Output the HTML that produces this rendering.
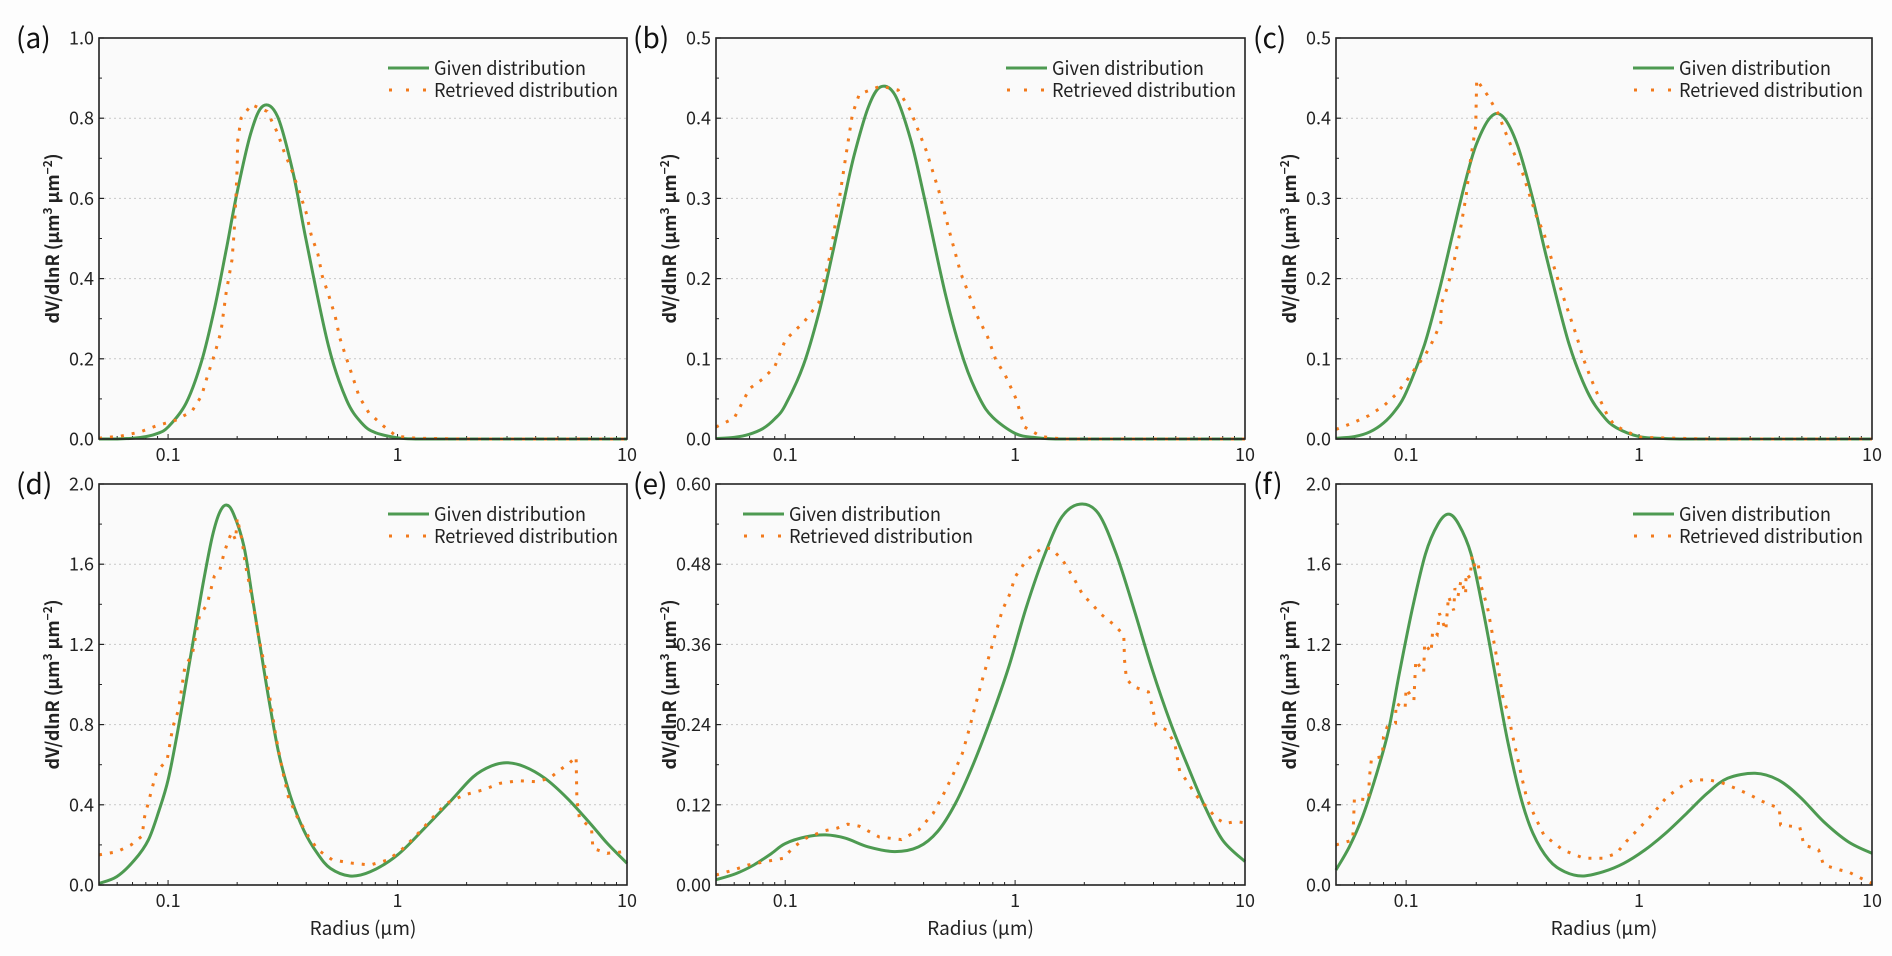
<!DOCTYPE html>
<html><head><meta charset="utf-8">
<style>
html,body{margin:0;padding:0;background:#fdfdfd;}
svg{display:block;font-family:"Noto Sans CJK SC","Liberation Sans",sans-serif;}
</style></head>
<body>
<svg id="fig" width="1892" height="956" viewBox="0 0 1892 956" xmlns="http://www.w3.org/2000/svg">
<rect x="0" y="0" width="1892" height="956" fill="#fdfdfd"/>
</svg>
<script>
// ---------- shared tick labels ----------
const xTickVals = [0.1, 1, 10];
const xTickLabels = ['0.1', '1', '10'];
// ---------- given-curve radius grid (a,b,c) ----------
const gridR = [0.05,0.06,0.07,0.08,0.09,0.1,0.12,0.14,0.16,0.18,0.2,0.23,0.26,0.3,0.35,0.4,0.5,0.6,0.7,0.8,1,1.2,1.5,2,3,5,10];
// ---------- panel (a) ----------
const aYTicks = ['0.0','0.2','0.4','0.6','0.8','1.0'];
const aGiven = [0,0,0.002,0.006,0.014,0.030,0.090,0.194,0.330,0.478,0.616,0.765,0.831,0.804,0.666,0.495,0.232,0.097,0.039,0.016,0.003,0,0,0,0,0,0];
const aRetR = [0.05,0.062,0.075,0.089,0.108,0.127,0.140,0.149,0.160,0.170,0.179,0.190,0.194,0.198,0.200,0.201,0.208,0.231,0.270,0.30,0.32,0.35,0.375,0.40,0.42,0.45,0.47,0.50,0.535,0.56,0.595,0.64,0.68,0.75,0.87,0.99,1.2,2,4,10];
const aRetV = [0.002,0.007,0.017,0.033,0.047,0.069,0.108,0.160,0.214,0.268,0.364,0.447,0.514,0.613,0.68,0.742,0.80,0.834,0.817,0.763,0.717,0.663,0.613,0.564,0.51,0.46,0.406,0.36,0.306,0.252,0.206,0.152,0.106,0.065,0.032,0.007,0.002,0,0,0];
// ---------- panel (b) ----------
const bYTicks = ['0.0','0.1','0.2','0.3','0.4','0.5'];
const bGiven = [0.0005,0.002,0.006,0.013,0.025,0.042,0.092,0.157,0.229,0.297,0.355,0.414,0.439,0.429,0.375,0.305,0.178,0.097,0.051,0.027,0.007,0.002,0,0,0,0,0];
const bRetR = [0.05,0.06,0.07,0.08,0.09,0.1,0.11,0.12,0.14,0.157,0.17,0.183,0.196,0.21,0.26,0.31,0.35,0.41,0.465,0.52,0.58,0.63,0.68,0.76,0.826,0.905,1.01,1.1,1.3,1.6,3,10];
const bRetV = [0.015,0.026,0.063,0.075,0.09,0.123,0.135,0.145,0.17,0.23,0.29,0.35,0.405,0.43,0.44,0.435,0.41,0.36,0.31,0.257,0.207,0.18,0.155,0.127,0.098,0.08,0.05,0.015,0.003,0,0,0];
// ---------- panel (c) ----------
const cYTicks = ['0.0','0.1','0.2','0.3','0.4','0.5'];
const cGiven = [0.001,0.003,0.009,0.020,0.036,0.058,0.118,0.190,0.261,0.322,0.367,0.401,0.402,0.367,0.299,0.227,0.119,0.059,0.029,0.014,0.003,0.001,0,0,0,0,0];
const cRetR = [0.05,0.0589,0.069,0.080,0.090,0.099,0.110,0.121,0.130,0.141,0.1415,0.150,0.159,0.170,0.181,0.189,0.199,0.200,0.201,0.223,0.248,0.264,0.29,0.316,0.34,0.362,0.39,0.417,0.444,0.472,0.505,0.54,0.575,0.62,0.67,0.73,0.78,0.87,1.02,2,10];
const cRetV = [0.012,0.020,0.029,0.041,0.055,0.070,0.089,0.105,0.122,0.145,0.168,0.188,0.215,0.257,0.303,0.348,0.39,0.419,0.448,0.429,0.406,0.386,0.357,0.332,0.303,0.278,0.257,0.228,0.203,0.178,0.153,0.128,0.101,0.076,0.053,0.030,0.018,0.010,0.002,0,0];
// ---------- panel (d) ----------
const dYTicks = ['0.0','0.4','0.8','1.2','1.6','2.0'];
const dGivR = [0.05,0.0598,0.0715,0.082,0.0915,0.1,0.109,0.119,0.131,0.143,0.156,0.168,0.18,0.193,0.214,0.234,0.256,0.28,0.306,0.342,0.39,0.447,0.51,0.62,0.76,1.0,1.31,1.72,2.14,2.57,2.99,3.58,4.39,5.5,6.9,8.2,10];
const dGivV = [0.008,0.042,0.125,0.224,0.374,0.524,0.74,0.99,1.27,1.52,1.74,1.86,1.895,1.85,1.69,1.42,1.14,0.873,0.64,0.44,0.274,0.158,0.083,0.045,0.066,0.15,0.283,0.424,0.54,0.594,0.61,0.59,0.532,0.432,0.308,0.208,0.108];
const dRetR = [0.05,0.06,0.069,0.077,0.079,0.089,0.099,0.105,0.111,0.118,0.128,0.137,0.148,0.159,0.168,0.175,0.183,0.19,0.197,0.20,0.21,0.217,0.227,0.237,0.25,0.264,0.28,0.295,0.315,0.334,0.365,0.41,0.45,0.52,0.64,0.76,0.91,1.04,1.19,1.39,1.63,1.95,2.35,2.8,3.36,4.0,4.6,5.1,5.6,6.0,6.05,6.2,7.0,7.1,8.2,9.8];
const dRetV = [0.15,0.166,0.2,0.244,0.34,0.565,0.623,0.79,0.873,1.08,1.16,1.34,1.40,1.54,1.57,1.65,1.72,1.76,1.72,1.83,1.72,1.60,1.49,1.37,1.22,1.09,0.906,0.74,0.574,0.44,0.34,0.24,0.175,0.125,0.108,0.10,0.125,0.175,0.24,0.324,0.407,0.449,0.474,0.507,0.52,0.515,0.532,0.574,0.607,0.64,0.424,0.333,0.283,0.183,0.158,0.166];
// ---------- panel (e) ----------
const eYTicks = ['0.00','0.12','0.24','0.36','0.48','0.60'];
const eGivR = [0.05,0.061,0.073,0.087,0.1,0.123,0.150,0.183,0.23,0.30,0.38,0.46,0.55,0.66,0.79,0.94,1.12,1.35,1.6,1.92,2.3,2.75,3.3,3.95,4.75,5.65,6.7,8.0,10];
const eGivV = [0.008,0.017,0.030,0.047,0.062,0.072,0.075,0.070,0.057,0.050,0.057,0.080,0.122,0.182,0.252,0.327,0.416,0.496,0.551,0.570,0.556,0.496,0.411,0.322,0.242,0.177,0.117,0.067,0.035];
const eRetR = [0.05,0.059,0.069,0.082,0.098,0.109,0.123,0.147,0.168,0.187,0.21,0.256,0.32,0.38,0.44,0.49,0.54,0.59,0.63,0.67,0.72,0.78,0.83,0.88,0.95,1.0,1.12,1.32,1.44,1.61,1.8,1.97,2.15,2.35,2.7,2.97,2.99,3.05,3.25,3.8,3.97,4.1,4.55,4.95,5.2,5.55,6.1,6.8,7.5,8.2,9.1,10];
const eRetV = [0.015,0.022,0.030,0.035,0.040,0.057,0.070,0.081,0.085,0.091,0.088,0.072,0.068,0.082,0.107,0.137,0.167,0.197,0.232,0.267,0.307,0.349,0.381,0.411,0.436,0.461,0.486,0.505,0.503,0.486,0.459,0.434,0.421,0.406,0.389,0.374,0.337,0.309,0.297,0.289,0.264,0.239,0.232,0.212,0.170,0.157,0.135,0.117,0.10,0.092,0.095,0.093];
// ---------- panel (f) ----------
const fYTicks = ['0.0','0.4','0.8','1.2','1.6','2.0'];
const fGivR = [0.05,0.057,0.065,0.074,0.084,0.094,0.106,0.121,0.137,0.152,0.168,0.19,0.214,0.242,0.274,0.31,0.35,0.41,0.48,0.57,0.70,0.86,1.06,1.3,1.6,1.96,2.4,3.15,3.96,4.9,6.2,7.9,10];
const fGivV = [0.075,0.19,0.34,0.54,0.77,1.07,1.37,1.65,1.80,1.85,1.80,1.65,1.37,1.04,0.707,0.44,0.258,0.125,0.066,0.045,0.066,0.108,0.175,0.258,0.357,0.457,0.532,0.557,0.524,0.44,0.316,0.216,0.158];
const fRetR = [0.05,0.059,0.0595,0.06,0.069,0.0695,0.071,0.079,0.08,0.083,0.090,0.0905,0.099,0.1,0.108,0.109,0.11,0.119,0.12,0.128,0.13,0.136,0.139,0.148,0.152,0.16,0.162,0.167,0.172,0.18,0.181,0.188,0.192,0.198,0.204,0.21,0.223,0.233,0.242,0.25,0.26,0.274,0.285,0.30,0.317,0.33,0.36,0.39,0.47,0.58,0.70,0.80,0.88,1.0,1.15,1.3,1.47,1.7,2.0,2.3,2.6,3.0,3.4,4.0,4.05,4.9,5.1,5.9,6.2,7.3,7.9,9.0,10];
const fRetV = [0.20,0.224,0.324,0.432,0.424,0.532,0.63,0.64,0.74,0.79,0.806,0.906,0.88,0.98,0.92,1.02,1.12,1.06,1.205,1.16,1.27,1.25,1.355,1.27,1.44,1.37,1.48,1.44,1.52,1.45,1.555,1.53,1.64,1.58,1.60,1.49,1.39,1.27,1.17,1.06,0.94,0.856,0.756,0.64,0.515,0.43,0.333,0.25,0.175,0.133,0.133,0.158,0.216,0.283,0.357,0.432,0.482,0.524,0.524,0.507,0.482,0.449,0.416,0.382,0.30,0.288,0.20,0.175,0.10,0.075,0.066,0.033,0.008];

// ---------- layout (pixel geometry, not data) ----------
const panels = [
  {id:'a', x0:99,  x1:627,  y0:38,  y1:439, yt:aYTicks, gR:gridR, gV:aGiven, rR:aRetR, rV:aRetV, legLeft:false, xTitle:false},
  {id:'b', x0:716, x1:1245, y0:38,  y1:439, yt:bYTicks, gR:gridR, gV:bGiven, rR:bRetR, rV:bRetV, legLeft:false, xTitle:false},
  {id:'c', x0:1336,x1:1872, y0:38,  y1:439, yt:cYTicks, gR:gridR, gV:cGiven, rR:cRetR, rV:cRetV, legLeft:false, xTitle:false},
  {id:'d', x0:99,  x1:627,  y0:484, y1:885, yt:dYTicks, gR:dGivR, gV:dGivV, rR:dRetR, rV:dRetV, legLeft:false, xTitle:true},
  {id:'e', x0:716, x1:1245, y0:484, y1:885, yt:eYTicks, gR:eGivR, gV:eGivV, rR:eRetR, rV:eRetV, legLeft:true, xTitle:true},
  {id:'f', x0:1336,x1:1872, y0:484, y1:885, yt:fYTicks, gR:fGivR, gV:fGivV, rR:fRetR, rV:fRetV, legLeft:false, xTitle:true}
];
const GREEN = '#4d9a51', ORANGE = '#f27a1c';
const NS = 'http://www.w3.org/2000/svg';
const fig = document.getElementById('fig');
function mk(tag, attrs, parent){
  const e = document.createElementNS(NS, tag);
  for (const k in attrs) e.setAttribute(k, attrs[k]);
  (parent||fig).appendChild(e);
  return e;
}
const LMIN = Math.log10(0.05), LMAX = Math.log10(10);

panels.forEach(p => {
  const g = mk('g', {});
  
  
  const ymax = parseFloat(p.yt[p.yt.length-1]);
  const xs = r => p.x0 + (Math.log10(r) - LMIN) / (LMAX - LMIN) * (p.x1 - p.x0);
  const ys = v => p.y1 - v / ymax * (p.y1 - p.y0);

  mk('rect', {x:p.x0, y:p.y0, width:p.x1-p.x0, height:p.y1-p.y0, fill:'#fafafa'}, g);

  const yg = mk('g', {}, g);
  
  
  p.yt.forEach((lab, i) => {
    const v = parseFloat(lab);
    const y = ys(v);
    if (i > 0 && i < p.yt.length-1) {
      const gl = mk('line', {x1:p.x0, x2:p.x1, y1:y, y2:y, stroke:'#c8c8c8', 'stroke-width':1, 'stroke-dasharray':'2 3'}, yg);
      
      
    }
    mk('line', {x1:p.x0, x2:p.x0+5, y1:y, y2:y, stroke:'#222', 'stroke-width':1.2}, yg);
    const t = mk('text', {x:p.x0-5, y:y+6.5, 'text-anchor':'end', 'font-size':18, fill:'#222'}, yg);
    t.textContent = lab;
    
    
    if (i < p.yt.length-1) {
      const vn = (v + parseFloat(p.yt[i+1]))/2;
      mk('line', {x1:p.x0, x2:p.x0+3, y1:ys(vn), y2:ys(vn), stroke:'#222', 'stroke-width':1}, yg);
    }
  });

  const xg = mk('g', {}, g);
  
  
  for (let dec = -2; dec <= 0; dec++) {
    for (let m = 1; m <= 9; m++) {
      const r = m * Math.pow(10, dec);
      if (r < 0.05 || r > 10) continue;
      const x = xs(r);
      const len = (m === 1) ? 5 : 3;
      mk('line', {x1:x, x2:x, y1:p.y1, y2:p.y1-len, stroke:'#222', 'stroke-width':1}, xg);
    }
  }
  xTickVals.forEach((v, i) => {
    const t = mk('text', {x:xs(v), y:p.y1+22, 'text-anchor':'middle', 'font-size':18, fill:'#222'}, xg);
    t.textContent = xTickLabels[i];
    
    
  });

  const pts = p.gR.map((r, i) => [xs(r), ys(p.gV[i])]);
  let d = 'M' + pts[0][0].toFixed(1) + ',' + pts[0][1].toFixed(1);
  for (let i = 0; i < pts.length-1; i++) {
    const p0 = pts[Math.max(0,i-1)], p1 = pts[i], p2 = pts[i+1], p3 = pts[Math.min(pts.length-1,i+2)];
    let c1y = p1[1] + (p2[1]-p0[1])/6, c2y = p2[1] - (p3[1]-p1[1])/6;
    c1y = Math.min(c1y, p.y1); c2y = Math.min(c2y, p.y1);
    d += ' C' + (p1[0]+(p2[0]-p0[0])/6).toFixed(1) + ',' + c1y.toFixed(1) + ' ' +
         (p2[0]-(p3[0]-p1[0])/6).toFixed(1) + ',' + c2y.toFixed(1) + ' ' + p2[0].toFixed(1) + ',' + p2[1].toFixed(1);
  }
  const gc = mk('path', {d:d, fill:'none', stroke:GREEN, 'stroke-width':3, 'stroke-linejoin':'round'}, g);
  
  

  const rp = p.rR.map((r, i) => xs(r).toFixed(1) + ',' + ys(p.rV[i]).toFixed(1)).join(' ');
  const rc = mk('polyline', {points:rp, fill:'none', stroke:ORANGE, 'stroke-width':3, 'stroke-dasharray':'3 8'}, g);
  
  

  mk('rect', {x:p.x0, y:p.y0, width:p.x1-p.x0, height:p.y1-p.y0, fill:'none', stroke:'#222', 'stroke-width':1.6}, g);

  const pl = mk('text', {x:p.x0-83, y:p.y0+10, 'font-size':28, fill:'#111'}, g);
  pl.textContent = '(' + p.id + ')';
  
  

  const cy = (p.y0 + p.y1)/2, cx = p.x0 - 40;
  const yt = mk('text', {x:cx, y:cy, 'text-anchor':'middle', 'font-size':18, 'font-weight':'bold', fill:'#222', textLength:170, lengthAdjust:'spacingAndGlyphs', transform:'rotate(-90 '+cx+' '+cy+')'}, g);
  yt.innerHTML = 'dV/dlnR (μm<tspan dy="-7" font-size="12">3</tspan><tspan dy="7"> μm</tspan><tspan dy="-7" font-size="12">−2</tspan><tspan dy="7">)</tspan>';
  
  

  if (p.xTitle) {
    const xt = mk('text', {x:(p.x0+p.x1)/2, y:p.y1+50, 'text-anchor':'middle', 'font-size':19, fill:'#222'}, g);
    xt.textContent = 'Radius (μm)';
    
    
  }

  const lx = p.legLeft ? p.x0 + 27 : p.x1 - 239;
  const ly = p.y0 + 30;
  const lg = mk('g', {}, g);
  
  
  mk('line', {x1:lx, x2:lx+41, y1:ly, y2:ly, stroke:GREEN, 'stroke-width':3}, lg);
  const t1 = mk('text', {x:lx+46, y:ly+7, 'font-size':19, fill:'#222', textLength:152, lengthAdjust:'spacingAndGlyphs'}, lg);
  t1.textContent = 'Given distribution';
  
  
  mk('line', {x1:lx+1, x2:lx+41, y1:ly+22, y2:ly+22, stroke:ORANGE, 'stroke-width':3, 'stroke-dasharray':'3 14'}, lg);
  const t2 = mk('text', {x:lx+46, y:ly+29, 'font-size':19, fill:'#222', textLength:184, lengthAdjust:'spacingAndGlyphs'}, lg);
  t2.textContent = 'Retrieved distribution';
  
  
});
</script>
</body></html>
